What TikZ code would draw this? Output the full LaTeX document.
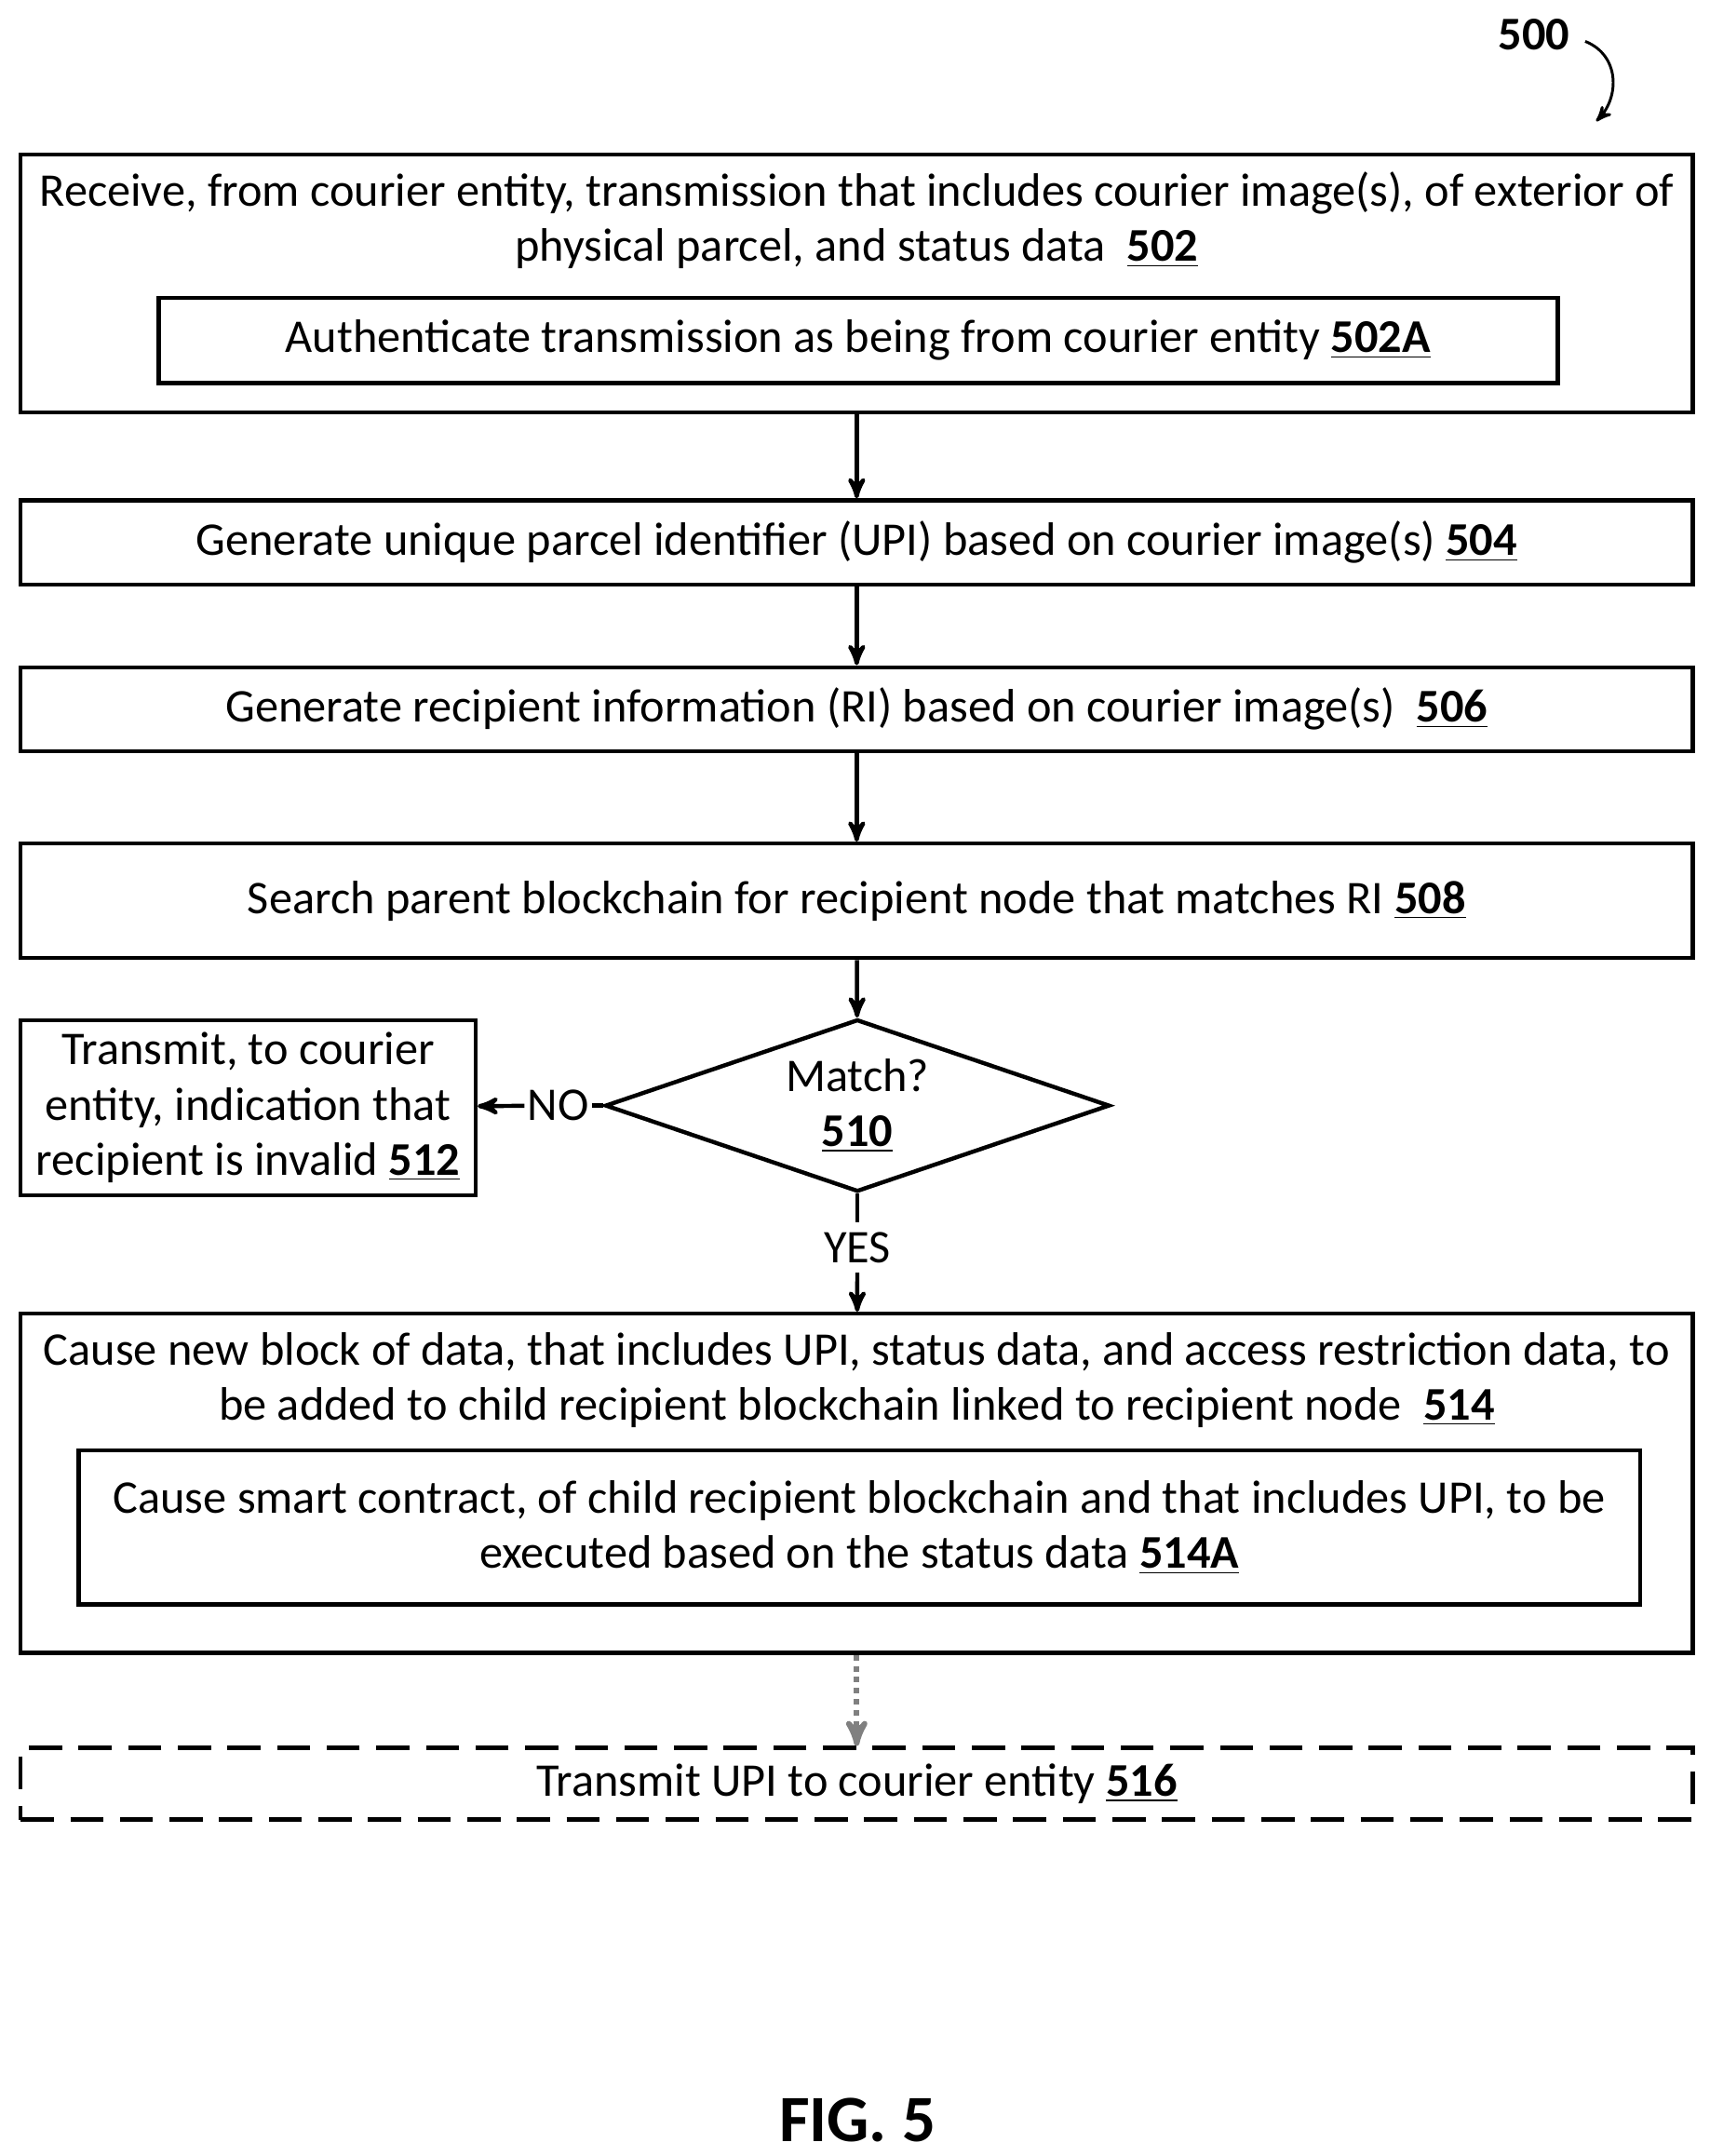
\documentclass[tikz,border=0pt]{standalone}
\usepackage{fontspec}
\setmainfont{Carlito}
\usetikzlibrary{arrows,shapes.geometric}
\newcommand{\stepno}[1]{\underline{\textbf{#1}}}
\begin{document}
\begin{tikzpicture}[x=0.5pt,y=-0.5pt,>=stealth',
  every node/.style={font=\fontsize{17}{20}\selectfont},
  box/.style={draw,line width=1.5pt,inner sep=0pt,align=center},
  flow/.style={->,line width=1.5pt,shorten >=0pt}]
  \useasboundingbox (0,0) rectangle (1240,1564);
  \node (fig) at (1113,25) {\textbf{500}};
  \draw[->,line width=1pt] (1150,30) .. controls (1175,40) and (1175,70) .. (1158,88);
  % outer boxes
  \node[box,minimum width=606.5pt,minimum height=93.5pt] (s502) at (621.5,205.5) {};
  \node[align=center] (t502) at (621.5,160) {Receive, from courier entity, transmission that includes courier image(s), of exterior of\\physical parcel, and status data \ \stepno{502}};
  \node[box,minimum width=507.5pt,minimum height=31pt] (s502a) at (622.5,247) {Authenticate transmission as being from courier entity \stepno{502A}};
  \node[box,minimum width=606.5pt,minimum height=30.5pt] (s504) at (621.5,393.5) {Generate unique parcel identifier (UPI) based on courier image(s) \stepno{504}};
  \node[box,minimum width=606.5pt,minimum height=30.5pt] (s506) at (621.5,514.5) {Generate recipient information (RI) based on courier image(s) \ \stepno{506}};
  \node[box,minimum width=606.5pt,minimum height=41.5pt] (s508) at (621.5,653.5) {Search parent blockchain for recipient node that matches RI \stepno{508}};
  \node[draw,line width=1.5pt,diamond,aspect=2.9,minimum width=183pt,minimum height=62.5pt,inner sep=0pt] (s510) at (622,802) {};
  \node[align=center] (t510) at (622,802) {Match?\\\stepno{510}};
  \node[box,minimum width=165pt,minimum height=63.5pt] (s512) at (180,803.5) {Transmit, to courier\\entity, indication that\\recipient is invalid \stepno{512}};
  \node[inner sep=1pt] (no) at (405,802) {NO};
  \node (yes) at (622,905) {YES};
  \node[box,minimum width=606.5pt,minimum height=123pt] (s514) at (621.5,1076) {};
  \node[align=center] (t514) at (621.5,1001) {Cause new block of data, that includes UPI, status data, and access restriction data, to\\be added to child recipient blockchain linked to recipient node \ \stepno{514}};
  \node[box,minimum width=566.5pt,minimum height=56pt] (s514a) at (623.5,1108) {Cause smart contract, of child recipient blockchain and that includes UPI, to be\\executed based on the status data \stepno{514A}};
  \node[box,dashed,dash pattern=on 12pt off 6pt,minimum width=606.5pt,minimum height=26pt] (s516) at (621.5,1294) {Transmit UPI to courier entity \stepno{516}};
  \node (cap) at (622,1538) {\fontsize{24}{28}\selectfont\textbf{FIG. 5}};
  % connectors
  \draw[flow] (s502) -- (s504);
  \draw[flow] (s504) -- (s506);
  \draw[flow] (s506) -- (s508);
  \draw[flow] (s508) -- (s510);
  \draw[line width=1.5pt] (s510) -- (no);
  \draw[flow] (no) -- (s512);
  \draw[line width=1.5pt] (s510) -- (yes);
  \draw[flow] (yes) -- (s514);
  \draw[->,line width=2pt,gray,dotted] (s514) -- (s516);
\end{tikzpicture}
\end{document}
